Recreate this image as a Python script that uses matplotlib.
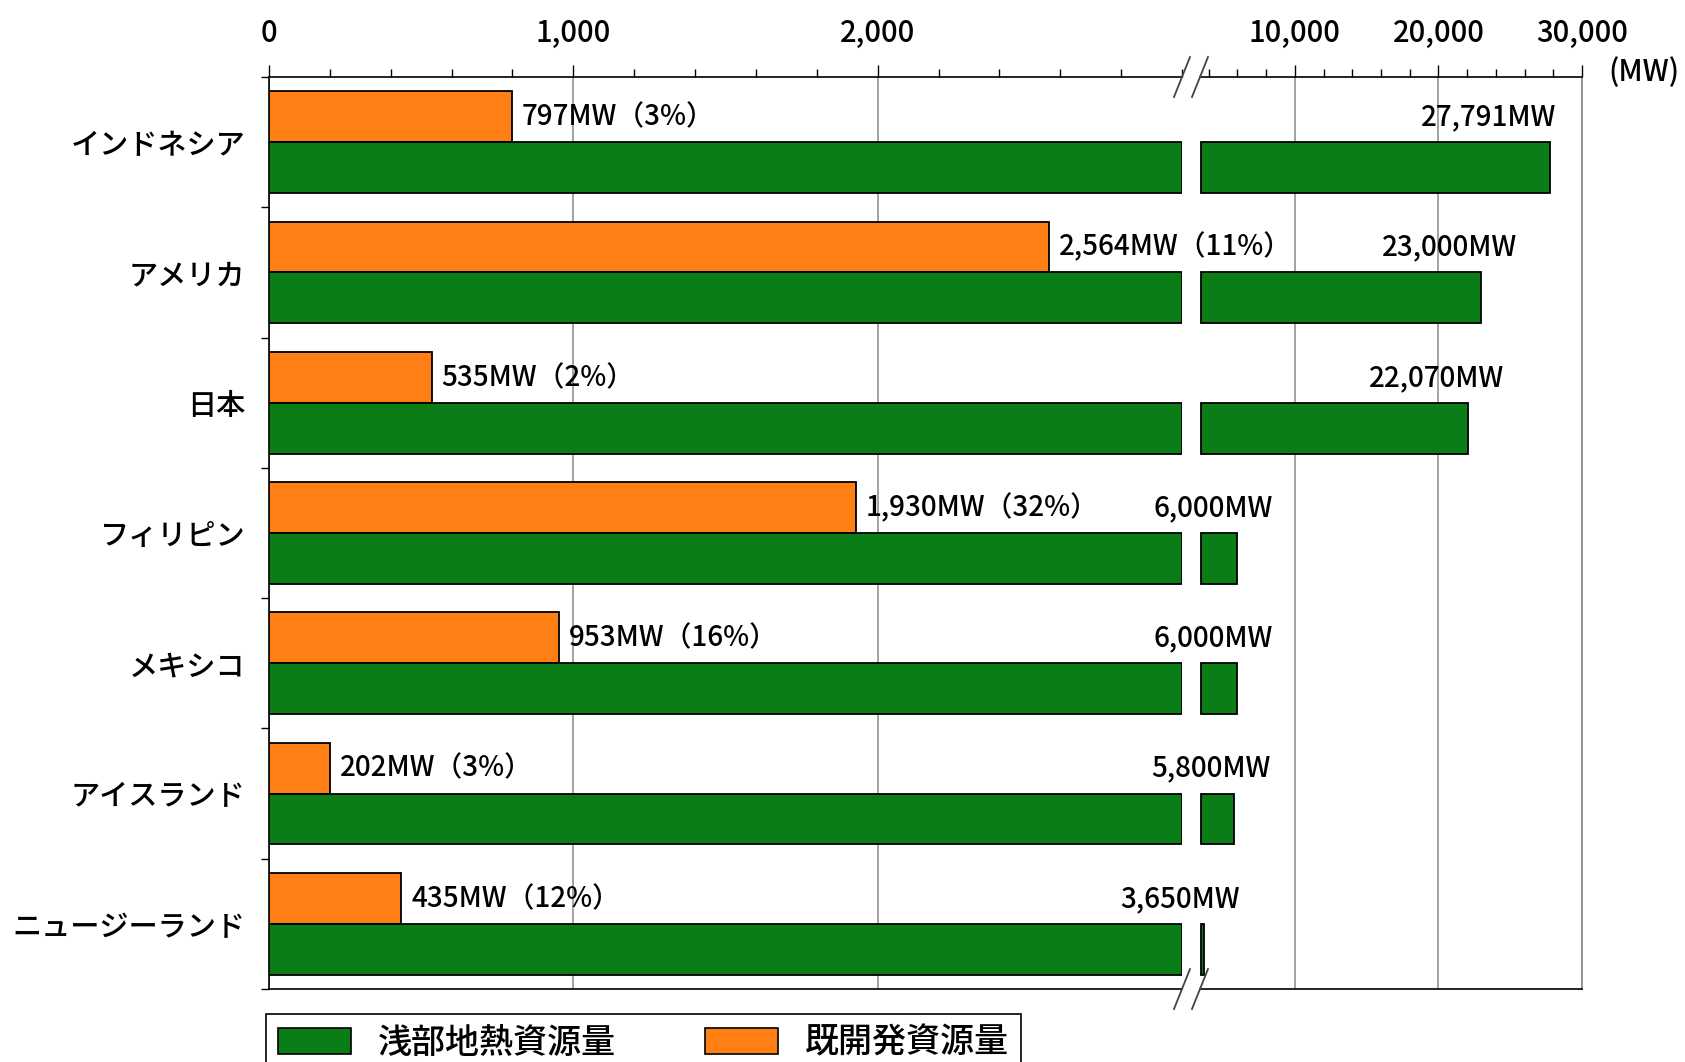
import numpy as np
import matplotlib
matplotlib.use('Agg')
import matplotlib.pyplot as plt
from matplotlib.lines import Line2D
from matplotlib.patches import Patch
from matplotlib.ticker import MultipleLocator, FixedLocator, FuncFormatter

plt.rcParams['font.family'] = ['Noto Sans CJK JP', 'DejaVu Sans']
plt.rcParams['font.weight'] = 'medium'

# 国別の地熱資源量と既開発量 (MW)
countries = ['インドネシア', 'アメリカ', '日本', 'フィリピン', 'メキシコ', 'アイスランド', 'ニュージーランド']
resource_mw = [27791, 23000, 22070, 6000, 6000, 5800, 3650]
developed_mw = [797, 2564, 535, 1930, 953, 202, 435]
developed_pct = [3, 11, 2, 32, 16, 3, 12]

legend_labels = ['浅部地熱資源量', '既開発資源量']

GREEN = '#0b7d16'
ORANGE = '#ff7f14'
GRID = '#8a8a8a'

W, H = 1685, 1062
DPI = 100
fig = plt.figure(figsize=(W / DPI, H / DPI), dpi=DPI)


def px_box(x0, x1, y0, y1):
    # ピクセル指定 -> figure座標
    return [x0 / W, 1 - y1 / H, (x1 - x0) / W, (y1 - y0) / H]


# 左: 0〜3,000 の線形, 右: 省略後 〜30,000
ax1 = fig.add_axes(px_box(269, 1182, 77, 989))
ax2 = fig.add_axes(px_box(1200, 1582, 77, 989))
ax2.patch.set_facecolor('none')

LEFT_MAX = 3000
RIGHT_MIN = 3400
BAR_START = 3500

y = np.arange(len(countries))
h = 0.39
res = np.array(resource_mw)
dev = np.array(developed_mw)

bar_kw = dict(height=h, edgecolor='black', linewidth=1.3, zorder=3)
ax1.barh(y - h / 2, dev, color=ORANGE, **bar_kw)
ax1.barh(y + h / 2, np.minimum(res, LEFT_MAX), color=GREEN, **bar_kw)
ax2.barh(y + h / 2, res - BAR_START, left=BAR_START, color=GREEN, **bar_kw)

ax1.set_xlim(0, LEFT_MAX)
ax2.set_xlim(RIGHT_MIN, 30000)
for ax in (ax1, ax2):
    ax.set_ylim(len(countries) - 0.5, -0.5)

fmt = FuncFormatter(lambda v, p: f'{int(v):,}')
ax1.set_xticks([0, 1000, 2000])
ax1.xaxis.set_minor_locator(MultipleLocator(200))
ax2.set_xticks([10000, 20000, 30000])
ax2.xaxis.set_minor_locator(MultipleLocator(2000))

for ax in (ax1, ax2):
    ax.xaxis.tick_top()
    ax.xaxis.set_major_formatter(fmt)
    ax.tick_params(axis='x', which='major', direction='out', length=9, width=1.0,
                   pad=11, labelsize=21, colors='black')
    ax.tick_params(axis='x', which='minor', direction='out', length=6, width=1.0)
    ax.tick_params(axis='x', which='both', bottom=False)
    ax.set_axisbelow(True)
    ax.grid(axis='x', which='major', color=GRID, linewidth=1.1)
    for s in ax.spines.values():
        s.set_linewidth(1.2)

ax1.spines['right'].set_visible(False)
ax2.spines['left'].set_visible(False)
ax2.spines['right'].set_color(GRID)

ax1.set_yticks(y)
ax1.set_yticklabels(countries, fontsize=21)
ax1.yaxis.set_minor_locator(FixedLocator(np.arange(-0.5, len(countries), 1.0)))
ax1.tick_params(axis='y', which='major', length=0, pad=17)
ax1.tick_params(axis='y', which='minor', length=6, width=1.0, direction='out')
ax2.set_yticks([])
ax2.tick_params(axis='y', which='both', left=False, right=False)

# 既開発量ラベル
for yi, v, p in zip(y, dev, developed_pct):
    ax1.annotate(f'{v:,}MW（{p}%）', xy=(v, yi - h / 2), xytext=(7, 0),
                 textcoords='offset points', va='center', ha='left', fontsize=20)

# 資源量ラベル (枠からはみ出さない位置に右揃え)
frame_px = ax2.transAxes.transform((1, 0))[0]
for yi, v in zip(y, res):
    bar_px = ax2.transData.transform((v, 0))[0]
    off_px = min(36, frame_px - 26 - bar_px)
    ax2.annotate(f'{v:,}MW', xy=(v, yi - h / 2), xytext=(off_px * 72 / DPI, 0),
                 textcoords='offset points', va='center', ha='right', fontsize=20,
                 annotation_clip=False)

fig.text(1679 / W, 1 - 73 / H, '(MW)', fontsize=21, va='center', ha='right')

# 波線 (省略記号)
for yy in (77, 989):
    for xx in (1182, 1200):
        fig.add_artist(Line2D([(xx - 8) / W, (xx + 8) / W],
                              [1 - (yy + 20) / H, 1 - (yy - 20) / H],
                              color='#444444', linewidth=1.3))

handles = [Patch(facecolor=GREEN, edgecolor='black', linewidth=1.2),
           Patch(facecolor=ORANGE, edgecolor='black', linewidth=1.2)]
leg = fig.legend(handles, legend_labels, loc='upper left',
                 bbox_to_anchor=(266 / W, 1 - 1014 / H), borderaxespad=0,
                 ncol=2, fontsize=24.5, frameon=True, fancybox=False,
                 edgecolor='black', framealpha=1,
                 handlelength=2.15, handleheight=0.8, handletextpad=0.8,
                 columnspacing=2.6, borderpad=0.35)
leg.get_frame().set_linewidth(1.2)

fig.savefig('out.png', dpi=DPI)
